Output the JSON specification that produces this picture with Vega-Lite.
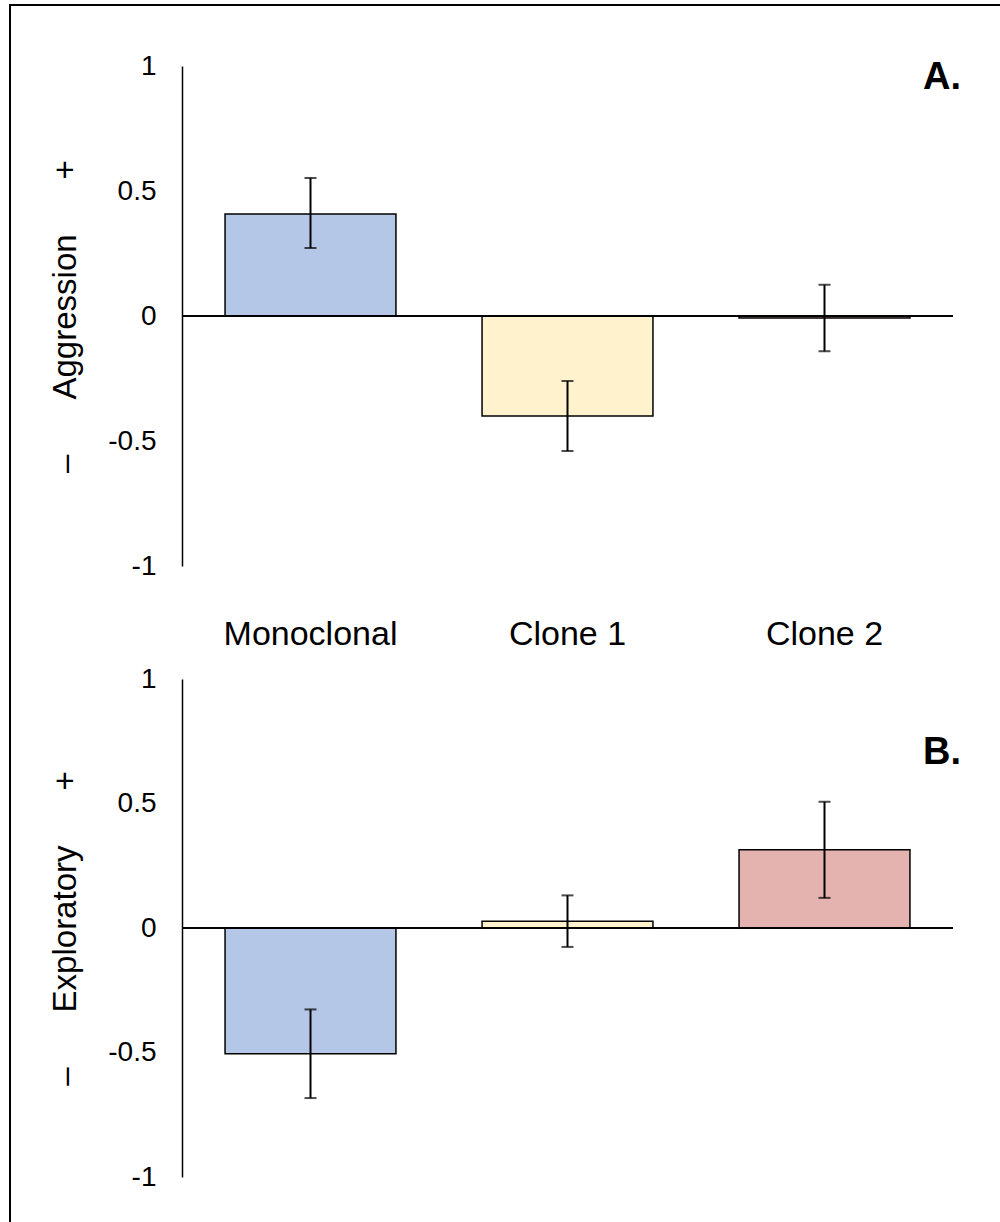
{
  "$schema": "https://vega.github.io/schema/vega-lite/v6.json",
  "padding": {"left": 9, "top": 4, "right": 0, "bottom": 0},
  "background": "white",
  "config": {
    "view": {"stroke": null},
    "font": "Liberation Sans",
    "axis": {"labelFont": "Liberation Sans", "titleFont": "Liberation Sans", "labelColor": "black", "titleColor": "black", "grid": false}
  },
  "datasets": {
    "aggression": [
      {"group": "Monoclonal", "value": 0.408, "lo": 0.272, "hi": 0.552},
      {"group": "Clone 1", "value": -0.4, "lo": -0.54, "hi": -0.26},
      {"group": "Clone 2", "value": -0.008, "lo": -0.141, "hi": 0.125}
    ],
    "exploratory": [
      {"group": "Monoclonal", "value": -0.505, "lo": -0.683, "hi": -0.327},
      {"group": "Clone 1", "value": 0.027, "lo": -0.076, "hi": 0.131},
      {"group": "Clone 2", "value": 0.314, "lo": 0.121, "hi": 0.507}
    ]
  },
  "spacing": 0,
  "vconcat": [
    {
      "data": {"values": []},
      "width": 991,
      "height": 2,
      "view": {"fill": "black", "stroke": null},
      "mark": "rule",
      "encoding": {}
    },
    {
      "spacing": 38,
      "hconcat": [
        {
          "data": {"values": []},
          "width": 2,
          "height": 1216,
          "view": {"fill": "black", "stroke": null},
          "mark": "rule",
          "encoding": {}
        },
        {
          "spacing": 14,
          "vconcat": [
            {
              "data": {"values": []},
              "width": 1,
              "height": 32,
              "mark": "rule",
              "encoding": {}
            },
            {
              "data": {"name": "aggression"},
              "width": 771,
              "height": 500,
              "layer": [
                {
                  "mark": {"type": "bar", "stroke": "black", "strokeWidth": 1.5},
                  "encoding": {
                    "x": {"field": "group", "type": "nominal", "sort": ["Monoclonal", "Clone 1", "Clone 2"], "scale": {"paddingInner": 0.335, "paddingOuter": 0.1675},
                      "axis": {"orient": "bottom", "domain": false, "ticks": false, "labelPadding": 51, "labelFontSize": 34, "labelAngle": 0, "title": null}},
                    "y": {"field": "value", "type": "quantitative", "scale": {"domain": [-1, 1], "nice": false, "zero": false},
                      "title": "–\u00a0\u00a0\u00a0\u00a0\u00a0\u00a0Aggression\u00a0\u00a0\u00a0\u00a0\u00a0\u00a0+",
                      "axis": {"values": [-1, -0.5, 0, 0.5, 1], "labelExpr": "'' + datum.value", "ticks": false, "domain": true, "domainColor": "black", "domainWidth": 1.5, "labelPadding": 26, "labelFontSize": 28, "labelFlush": false, "labelOverlap": false,
                        "titleFontSize": 33, "titleFontWeight": "normal", "titlePadding": 25}},
                    "color": {"field": "group", "type": "nominal", "scale": {"domain": ["Monoclonal", "Clone 1", "Clone 2"], "range": ["#B4C7E7", "#FFF2CC", "#E4B2AF"]}, "legend": null}
                  }
                },
                {
                  "mark": {"type": "rule", "color": "black", "strokeWidth": 1.5},
                  "encoding": {"y": {"datum": 0}}
                },
                {
                  "mark": {"type": "rule", "color": "black", "strokeWidth": 2},
                  "encoding": {
                    "x": {"field": "group", "type": "nominal", "sort": ["Monoclonal", "Clone 1", "Clone 2"]},
                    "y": {"field": "lo", "type": "quantitative", "title": "–\u00a0\u00a0\u00a0\u00a0\u00a0\u00a0Aggression\u00a0\u00a0\u00a0\u00a0\u00a0\u00a0+"},
                    "y2": {"field": "hi"}
                  }
                },
                {
                  "mark": {"type": "tick", "color": "black", "size": 12, "thickness": 2},
                  "encoding": {
                    "x": {"field": "group", "type": "nominal", "sort": ["Monoclonal", "Clone 1", "Clone 2"]},
                    "y": {"field": "lo", "type": "quantitative", "title": "–\u00a0\u00a0\u00a0\u00a0\u00a0\u00a0Aggression\u00a0\u00a0\u00a0\u00a0\u00a0\u00a0+"}
                  }
                },
                {
                  "mark": {"type": "tick", "color": "black", "size": 12, "thickness": 2},
                  "encoding": {
                    "x": {"field": "group", "type": "nominal", "sort": ["Monoclonal", "Clone 1", "Clone 2"]},
                    "y": {"field": "hi", "type": "quantitative", "title": "–\u00a0\u00a0\u00a0\u00a0\u00a0\u00a0Aggression\u00a0\u00a0\u00a0\u00a0\u00a0\u00a0+"}
                  }
                },
                {
                  "data": {"values": [{"label": "A."}]},
                  "mark": {"type": "text", "align": "right", "baseline": "alphabetic", "fontSize": 38, "fontWeight": "bold", "font": "Liberation Sans", "color": "black", "dx": 51, "dy": -2},
                  "encoding": {
                    "x": {"datum": "Clone 2", "bandPosition": 1},
                    "y": {"datum": 0.9},
                    "text": {"field": "label"}
                  }
                }
              ]
            },
            {
              "data": {"name": "exploratory"},
              "width": 771,
              "height": 498,
              "layer": [
                {
                  "mark": {"type": "bar", "stroke": "black", "strokeWidth": 1.5},
                  "encoding": {
                    "x": {"field": "group", "type": "nominal", "sort": ["Monoclonal", "Clone 1", "Clone 2"], "scale": {"paddingInner": 0.335, "paddingOuter": 0.1675}, "axis": null},
                    "y": {"field": "value", "type": "quantitative", "scale": {"domain": [-1, 1], "nice": false, "zero": false},
                      "title": "–\u00a0\u00a0\u00a0\u00a0\u00a0\u00a0Exploratory\u00a0\u00a0\u00a0\u00a0\u00a0\u00a0+",
                      "axis": {"values": [-1, -0.5, 0, 0.5, 1], "labelExpr": "'' + datum.value", "ticks": false, "domain": true, "domainColor": "black", "domainWidth": 1.5, "labelPadding": 26, "labelFontSize": 28, "labelFlush": false, "labelOverlap": false,
                        "titleFontSize": 33, "titleFontWeight": "normal", "titlePadding": 25}},
                    "color": {"field": "group", "type": "nominal", "scale": {"domain": ["Monoclonal", "Clone 1", "Clone 2"], "range": ["#B4C7E7", "#FFF2CC", "#E4B2AF"]}, "legend": null}
                  }
                },
                {
                  "mark": {"type": "rule", "color": "black", "strokeWidth": 1.5},
                  "encoding": {"y": {"datum": 0}}
                },
                {
                  "mark": {"type": "rule", "color": "black", "strokeWidth": 2},
                  "encoding": {
                    "x": {"field": "group", "type": "nominal", "sort": ["Monoclonal", "Clone 1", "Clone 2"]},
                    "y": {"field": "lo", "type": "quantitative", "title": "–\u00a0\u00a0\u00a0\u00a0\u00a0\u00a0Exploratory\u00a0\u00a0\u00a0\u00a0\u00a0\u00a0+"},
                    "y2": {"field": "hi"}
                  }
                },
                {
                  "mark": {"type": "tick", "color": "black", "size": 12, "thickness": 2},
                  "encoding": {
                    "x": {"field": "group", "type": "nominal", "sort": ["Monoclonal", "Clone 1", "Clone 2"]},
                    "y": {"field": "lo", "type": "quantitative", "title": "–\u00a0\u00a0\u00a0\u00a0\u00a0\u00a0Exploratory\u00a0\u00a0\u00a0\u00a0\u00a0\u00a0+"}
                  }
                },
                {
                  "mark": {"type": "tick", "color": "black", "size": 12, "thickness": 2},
                  "encoding": {
                    "x": {"field": "group", "type": "nominal", "sort": ["Monoclonal", "Clone 1", "Clone 2"]},
                    "y": {"field": "hi", "type": "quantitative", "title": "–\u00a0\u00a0\u00a0\u00a0\u00a0\u00a0Exploratory\u00a0\u00a0\u00a0\u00a0\u00a0\u00a0+"}
                  }
                },
                {
                  "data": {"values": [{"label": "B."}]},
                  "mark": {"type": "text", "align": "right", "baseline": "alphabetic", "fontSize": 38, "fontWeight": "bold", "font": "Liberation Sans", "color": "black", "dx": 51, "dy": -2},
                  "encoding": {
                    "x": {"datum": "Clone 2", "bandPosition": 1},
                    "y": {"datum": 0.65},
                    "text": {"field": "label"}
                  }
                }
              ]
            }
          ]
        }
      ]
    }
  ]
}
